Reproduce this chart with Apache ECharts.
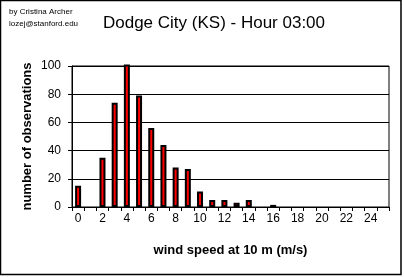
<!DOCTYPE html>
<html>
<head>
<meta charset="utf-8">
<script src="https://cdn.jsdelivr.net/npm/echarts@6/dist/echarts.min.js"></script>
<style>
html,body{margin:0;padding:0;background:#fff;}
#c{width:404px;height:277px;}
</style>
</head>
<body>
<div id="c"></div>
<script>
var categories = ['0','1','2','3','4','5','6','7','8','9','10','11','12','13','14','15','16','17','18','19','20','21','22','23','24','25'];
var counts = [15,0,35,74,101,79,56,44,28,27,11,5,5,3,5,0,1.5,0,0,0,0,0,0,0,0,0];
var yTicks = {min:0, max:100, interval:20};

var FONT = '"Liberation Sans", Arial, sans-serif';
var barData = counts.map(function(v){ return v === 0 ? '-' : v; });
var chart = echarts.init(document.getElementById('c'), null, {renderer:'canvas'});
chart.setOption({
  backgroundColor:'#fff',
  animation:false,
  grid:{left:72, right:15, top:66, bottom:70, containLabel:false, outerBoundsMode:'none',
        show:true, borderColor:'#000', borderWidth:1},
  xAxis:{
    type:'category', data:categories,
    axisLine:{lineStyle:{color:'#000', width:1}},
    axisTick:{show:true, length:4, lineStyle:{color:'#000'}, interval:0},
    axisLabel:{interval:1, color:'#000', fontFamily:FONT, fontSize:12, margin:6},
    name:'wind speed at 10 m (m/s)', nameLocation:'middle', nameGap:37, nameMoveOverlap:false,
    nameTextStyle:{color:'#000', fontFamily:FONT, fontSize:13, fontWeight:'bold'}
  },
  yAxis:{
    type:'value', min:yTicks.min, max:yTicks.max, interval:yTicks.interval,
    axisLine:{show:true, lineStyle:{color:'#000', width:1}},
    axisTick:{show:true, length:4, lineStyle:{color:'#000'}},
    axisLabel:{color:'#000', fontFamily:FONT, fontSize:12, margin:11},
    splitLine:{show:true, lineStyle:{color:'#000', width:1}},
    name:'number of observations', nameLocation:'middle', nameGap:38, nameMoveOverlap:false,
    nameTextStyle:{color:'#000', fontFamily:FONT, fontSize:13, fontWeight:'bold'}
  },
  series:[{
    type:'bar', data:barData, barWidth:6, clip:false,
    itemStyle:{color:'#ff0000', borderColor:'#000', borderWidth:2}
  }],
  graphic:[
    {type:'rect', shape:{x:0.5, y:0.5, width:400.5, height:274}, style:{fill:null, stroke:'#000', lineWidth:1.5}, silent:true},
    {type:'text', left:9, top:8, style:{text:'by Cristina Archer', font:'8px '+FONT, fill:'#000'}},
    {type:'text', left:9, top:20, style:{text:'lozej@stanford.edu', font:'8px '+FONT, fill:'#000'}},
    {type:'text', x:214, y:23, style:{text:'Dodge City (KS) - Hour 03:00', font:'17px '+FONT, fill:'#000', textAlign:'center', textVerticalAlign:'middle'}}
  ]
});
</script>
</body>
</html>
